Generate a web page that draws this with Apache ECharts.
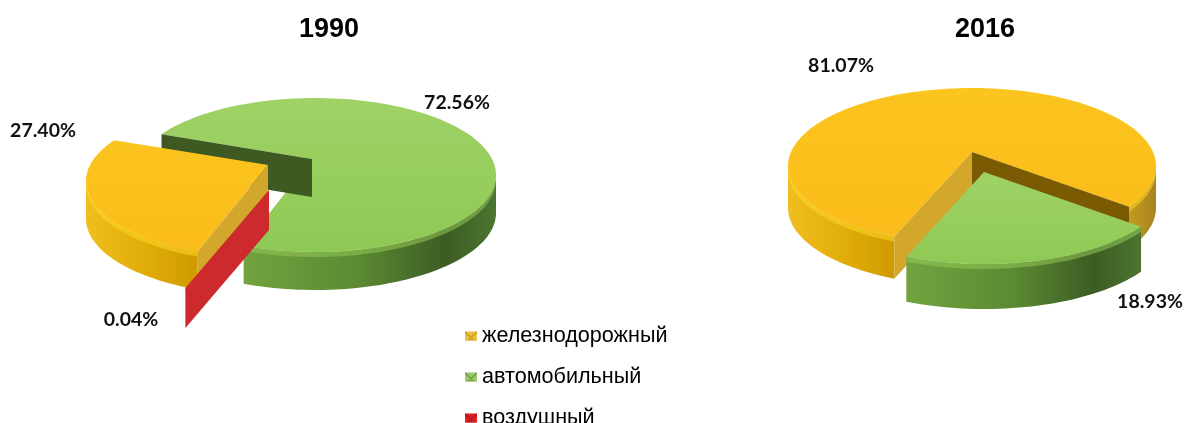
<!DOCTYPE html>
<html>
<head>
<meta charset="utf-8">
<style>html,body{margin:0;padding:0;background:#fff}#c{width:1185px;height:423px}</style>
<script src="https://cdn.jsdelivr.net/npm/echarts@6/dist/echarts.min.js"></script>
</head>
<body>
<div id="c"></div>
<script>
const years = ['1990', '2016'];
const categories = ['железнодорожный', 'автомобильный', 'воздушный'];
const values1990 = [27.40, 72.56, 0.04];
const values2016 = [81.07, 18.93, 0];

const valuesByPie = [values1990, values2016];

// Drawing set-up (not data): disc geometry of each pie, order of slices round the disc,
// painter's order, explosion offsets and label anchors.
const pies = [
  {cx: 315, cy: 175, a: 181, b: 77, apexX: -3, apexY: -16, depth: 38, start: 212, warp: 1,
   order: [1, 2, 0], paint: [1, 0, 2],
   slice: {0: {dx: -44, dy: 6, grow: 4}, 1: {dx: 0, dy: 0}, 2: {dx: -58, dy: 42, ax: 15, ay: -11, depth: 40}},
   labels: {0: [43, 131], 1: [457, 103], 2: [131, 320]}},
  {cx: 972, cy: 166, a: 184, b: 78, apexX: 0, apexY: -14, depth: 42, start: 110, warp: 1.256,
   order: [0, 1], paint: [0, 1],
   slice: {0: {dx: 0, dy: 0}, 1: {dx: 12, dy: 20, depth: 45}},
   labels: {0: [841, 66], 1: [1150, 302]}}
];
const lin = (stops) => new echarts.graphic.LinearGradient(0, 0, 1, 0,
  stops.map(s => ({offset: s[0], color: s[1]})));
const looks = [
  {top: ['#FCC41F', '#FABC1A'], rim: '#FFD924', light: '#D2A72B', dark: '#7A5A02', wall: 1},
  {top: ['#A0D266', '#8FC955'], rim: '#93C955', light: '#8DBF50', dark: '#3E5A22', wall: 2},
  {top: ['#D02A2C', '#C92A2C'], rim: '#CC2A2C', light: '#CC2A2C', dark: '#A02020', wall: 3}
];
function wallFill(kind, back) {
  if (kind === 1) return back ? lin([[0, '#C49A1E'], [1, '#A88420']])
    : lin([[0, '#F0BE1E'], [0.55, '#E0AC08'], [1, '#CF9A00']]);
  if (kind === 2) return lin([[0, '#72A33F'], [0.45, '#5C8A33'], [0.8, '#3D5C25'], [1, '#4C7530']]);
  return '#CC2A2C';
}
function warpAngle(phi, r) {
  let al = ((phi - 90) % 360 + 540) % 360 - 180;
  return 90 + 2 * Math.atan(r * Math.tan(al * Math.PI / 360)) * 180 / Math.PI;
}
function sliceRange(pieIdx, cat) {
  const p = pies[pieIdx], vals = valuesByPie[pieIdx];
  let acc = p.start;
  for (const c of p.order) {
    const sweep = vals[c] * 3.6;
    if (c === cat) {
      const s = warpAngle(acc, p.warp);
      let e = warpAngle(acc + sweep, p.warp);
      while (e < s) e += 360;
      return [s, e];
    }
    acc += sweep;
  }
  return [0, 0];
}
function renderSlice(params, api) {
  const pieIdx = api.value(0), cat = api.value(1), value = api.value(2);
  const p = pies[pieIdx], look = looks[cat], sl = p.slice[cat];
  const [ts, te] = sliceRange(pieIdx, cat);
  const ox = p.cx + sl.dx, oy = p.cy + sl.dy, a0 = p.a + (sl.grow || 0), depth = sl.depth || p.depth;
  const pt = t => [ox + a0 * Math.cos(t * Math.PI / 180), oy + p.b * Math.sin(t * Math.PI / 180)];
  const apex = [ox + p.apexX + (sl.ax || 0), oy + p.apexY + (sl.ay || 0)];
  const down = (q, d = depth) => [q[0], q[1] + d];
  const arc = (a, b) => { const n = Math.max(2, Math.ceil((b - a) / 2)), o = [];
    for (let i = 0; i <= n; i++) o.push(pt(a + (b - a) * i / n)); return o; };
  const children = [];
  // outer wall: only the stretches of the arc that face the viewer
  for (let k = -1; k <= 2; k++) {
    const a = Math.max(ts, 360 * k), b = Math.min(te, 360 * k + 180);
    if (b <= a) continue;
    const top = arc(a, b);
    children.push({type: 'polygon',
      shape: {points: top.concat(top.map(q => down(q)).reverse())},
      style: {fill: wallFill(look.wall, k > 0 && ts > 60)}});
    children.push({type: 'polygon',
      shape: {points: top.concat(top.map(q => down(q, 5)).reverse())},
      style: {fill: look.rim, opacity: 0.55}});
  }
  if (te - ts > 1) {
    children.push({type: 'polygon', shape: {points: [apex].concat(arc(ts, te))},
      style: {fill: new echarts.graphic.LinearGradient(0, 0, 0, 1,
        [{offset: 0, color: look.top[0]}, {offset: 1, color: look.top[1]}])}});
  }
  const face = (t, normal) => {
    if (Math.sin(normal * Math.PI / 180) <= 0) return;
    const q = pt(t);
    children.push({type: 'polygon', shape: {points: [apex, q, down(q), down(apex)]},
      style: {fill: Math.cos(normal * Math.PI / 180) > 0 ? look.light : look.dark}});
  };
  face(ts, ts - 90);
  face(te, te + 90);
  const lab = p.labels[cat];
  children.push({type: 'text', z2: 10, style: {x: lab[0], y: lab[1], text: value.toFixed(2) + '%',
    fill: '#111', font: 'bold 19.5px Lato', align: 'center', verticalAlign: 'middle'}});
  return {type: 'group', children};
}
function envelope(light, dark) {
  const svg = `<svg xmlns="http://www.w3.org/2000/svg" width="14" height="11">` +
    `<rect width="14" height="11" fill="${light}"/>` +
    `<polygon points="0,0 7,6 14,0 14,2 7,8 0,2" fill="${dark}"/>` +
    `<polygon points="0,11 7,7 14,11" fill="${dark}" opacity="0.6"/></svg>`;
  return 'image://data:image/svg+xml;charset=utf-8,' + encodeURIComponent(svg);
}
const icons = [envelope('#EBC047', '#C99A12'), envelope('#9CC86E', '#6E9E42'), envelope('#E01F24', '#A81A1E')];

const series = [];
pies.forEach((p, pieIdx) => p.paint.forEach(cat => {
  if (!valuesByPie[pieIdx][cat]) return;
  series.push({
    type: 'custom', name: categories[cat], coordinateSystem: 'none', renderItem: renderSlice,
    silent: true, animation: false, itemStyle: {color: looks[cat].top[1]},
    data: [[pieIdx, cat, valuesByPie[pieIdx][cat]]]
  });
}));

const titleFont = {fontFamily: 'Liberation Sans', fontWeight: 'bold', fontSize: 27, color: '#000'};
const chart = echarts.init(document.getElementById('c'), null, {renderer: 'canvas'});
chart.setOption({
  backgroundColor: '#fff',
  animation: false,
  title: [
    {text: years[0], left: 329, top: 16, padding: 0, textAlign: 'center', textStyle: titleFont},
    {text: years[1], left: 985, top: 16, padding: 0, textAlign: 'center', textStyle: titleFont}
  ],
  legend: {
    orient: 'vertical', left: 465, top: 325, height: 140, padding: 0, itemWidth: 12, itemHeight: 10, itemGap: 19,
    selectedMode: false,
    data: categories.map((n, i) => ({name: n, icon: icons[i]})),
    textStyle: {fontFamily: 'Liberation Sans', fontSize: 21.6, color: '#000'}
  },
  series
});
</script>
</body>
</html>
